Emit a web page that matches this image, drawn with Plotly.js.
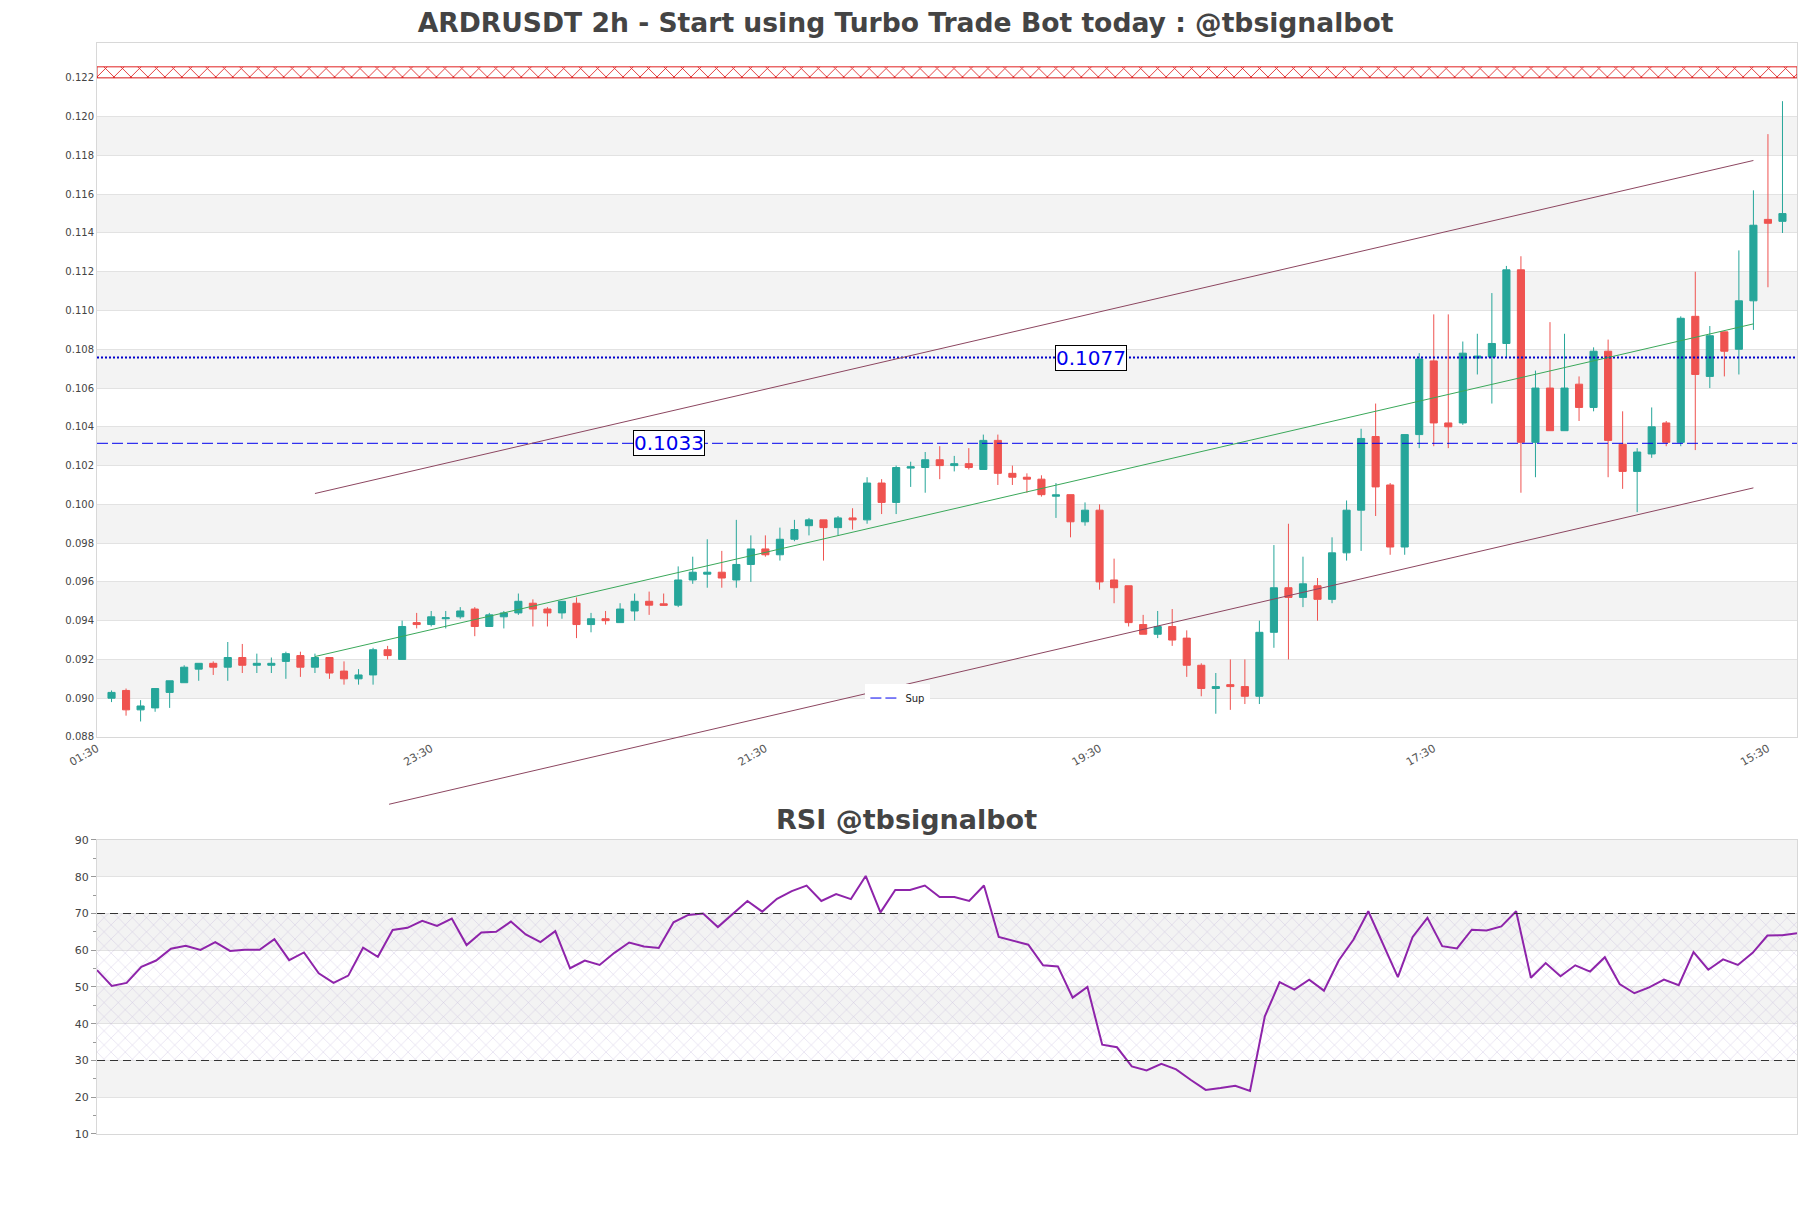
<!DOCTYPE html>
<html><head><meta charset="utf-8">
<script src="https://cdn.plot.ly/plotly-3.0.1.min.js"></script>
<style>html,body{margin:0;padding:0;background:#fff}#chart{width:1811px;height:1208px}</style>
</head><body><div id="chart"></div>
<script>
// ---------- data ----------
const candleIdx = [0,1,2,3,4,5,6,7,8,9,10,11,12,13,14,15,16,17,18,19,20,21,22,23,24,25,26,27,28,29,30,31,32,33,34,35,36,37,38,39,40,41,42,43,44,45,46,47,48,49,50,51,52,53,54,55,56,57,58,59,60,61,62,63,64,65,66,67,68,69,70,71,72,73,74,75,76,77,78,79,80,81,82,83,84,85,86,87,88,89,90,91,92,93,94,95,96,97,98,99,100,101,102,103,104,105,106,107,108,109,110,111,112,113,114,115];
const openP = [0.0900,0.0904,0.0894,0.0895,0.0903,0.0908,0.0915,0.0918,0.0916,0.0921,0.0917,0.0917,0.0919,0.0922,0.0916,0.0921,0.0914,0.0910,0.0912,0.0925,
0.0920,0.0939,0.0938,0.0941,0.0942,0.0946,0.0937,0.0942,0.0944,0.0949,0.0946,0.0944,0.0949,0.0938,0.0941,0.0939,0.0945,0.0950,0.09487,0.0948,
0.0961,0.0964,0.0965,0.0961,0.0969,0.0977,0.0974,0.0982,0.0989,0.0992,0.0988,0.0993,0.0992,0.1011,0.1001,0.10187,0.1019,0.1023,0.1020,0.1021,
0.1018,0.1033,0.1016,0.1014,0.1013,0.10042,0.1005,0.0991,0.0997,0.0961,0.0958,0.0938,0.0933,0.0937,0.0931,0.0917,0.0905,0.0907,0.0906,0.0901,
0.0934,0.0957,0.0952,0.0958,0.0951,0.0975,0.0997,0.1035,0.1010,0.0978,0.1036,0.1074,0.1042,0.1042,0.10755,0.1076,0.1083,0.1121,0.1032,0.1060,
0.1038,0.1062,0.1050,0.1079,0.1031,0.1017,0.1026,0.1042,0.1032,0.1097,0.1066,0.1089,0.1080,0.1105,0.1147,0.1146];
const highP = [0.0904,0.0905,0.0899,0.0905,0.0909,0.0917,0.0918,0.0919,0.0929,0.0928,0.0923,0.0921,0.0924,0.0924,0.0923,0.0921,0.0919,0.0915,0.0926,0.0927,
0.0940,0.0944,0.0945,0.0945,0.0947,0.0947,0.0944,0.0945,0.0954,0.0951,0.0947,0.0950,0.0952,0.0944,0.0945,0.0949,0.0954,0.0955,0.0954,0.0968,
0.0973,0.0982,0.0976,0.0992,0.0984,0.0984,0.0988,0.0992,0.0993,0.0992,0.0994,0.0998,0.1014,0.1013,0.1020,0.1022,0.1027,0.1030,0.1025,0.1029,
0.1036,0.1036,0.1020,0.1016,0.1015,0.1011,0.1005,0.1001,0.1000,0.0972,0.0958,0.0943,0.0945,0.0946,0.0935,0.0918,0.0913,0.0920,0.0920,0.0940,
0.0979,0.0990,0.0973,0.0962,0.0983,0.1002,0.1039,0.1052,0.1011,0.1036,0.1078,0.1098,0.1098,0.1084,0.1088,0.1109,0.1123,0.1128,0.1069,0.1094,
0.1088,0.1066,0.1081,0.1085,0.1048,0.1029,0.1050,0.1043,0.1097,0.1120,0.1092,0.1089,0.1131,0.1162,0.1191,0.1208];
const lowP = [0.0898,0.0891,0.0888,0.0893,0.0895,0.0908,0.0909,0.0912,0.0909,0.0913,0.0913,0.0913,0.0910,0.0911,0.0913,0.0910,0.0907,0.0907,0.0907,0.0920,
0.0920,0.0936,0.0937,0.0936,0.0941,0.0932,0.0937,0.0936,0.0943,0.0937,0.0937,0.0941,0.0931,0.0934,0.0938,0.0939,0.0940,0.0943,0.0948,0.0947,
0.0959,0.0957,0.0957,0.0957,0.0960,0.0973,0.0971,0.0981,0.0984,0.0971,0.0984,0.0987,0.0990,0.0995,0.0995,0.1009,0.1006,0.1013,0.1017,0.1018,
0.1018,0.1010,0.1010,0.1006,0.1004,0.0993,0.0983,0.0989,0.0956,0.0949,0.0937,0.0933,0.0931,0.0927,0.0911,0.0901,0.0892,0.0894,0.0897,0.0897,
0.0926,0.0920,0.0947,0.0940,0.0949,0.0971,0.0976,0.0994,0.0974,0.0974,0.1029,0.1030,0.1029,0.1041,0.1067,0.1052,0.1076,0.1006,0.1014,0.1038,
0.1038,0.1043,0.1048,0.1014,0.1008,0.0996,0.1024,0.1030,0.1030,0.1028,0.1060,0.1066,0.1067,0.1090,0.1112,0.1140];
const closeP = [0.0903,0.0894,0.0896,0.0905,0.0909,0.0916,0.0918,0.0916,0.0921,0.0917,0.0918,0.0918,0.0923,0.0916,0.0921,0.0913,0.0910,0.0912,0.0925,0.0922,
0.0937,0.0938,0.0942,0.09415,0.0945,0.0937,0.0943,0.0944,0.0950,0.0946,0.0944,0.0950,0.0938,0.0941,0.0940,0.0946,0.0950,0.0948,0.09479,0.0961,
0.0965,0.0965,0.0962,0.0969,0.0977,0.0974,0.0982,0.0987,0.0992,0.0988,0.0993,0.0992,0.1011,0.1001,0.1019,0.10194,0.1023,0.1020,0.1021,0.1019,
0.1033,0.1016,0.1014,0.1013,0.1005,0.10049,0.0991,0.0997,0.0960,0.0957,0.0939,0.0933,0.0937,0.0930,0.0917,0.0905,0.0906,0.0906,0.0901,0.0934,
0.0957,0.0952,0.0959,0.0951,0.0975,0.0997,0.1034,0.1009,0.0978,0.1036,0.1075,0.1042,0.1040,0.1078,0.10765,0.1083,0.1121,0.1032,0.1060,0.1038,
0.1060,0.1050,0.1079,0.1033,0.1017,0.1027,0.1040,0.1032,0.1096,0.1067,0.1087,0.1079,0.1105,0.1144,0.1145,0.1150];
const rsiIdx = candleIdx;
const rsiVals = [54.6,50.3,51.1,55.5,57.2,60.4,61.2,60.1,62.2,59.8,60.1,60.1,63.0,57.3,59.4,53.7,51.1,53.1,60.7,58.2,
65.5,66.1,68.0,66.6,68.6,61.4,64.8,65.0,67.8,64.3,62.2,65.2,55.1,57.2,56.0,59.3,62.1,61.0,60.6,67.6,
69.6,70.0,66.3,69.8,73.4,70.5,74.0,76.1,77.6,73.4,75.3,73.9,80.2,70.3,76.4,76.4,77.6,74.5,74.5,73.4,
77.6,63.6,62.5,61.5,55.9,55.6,47.1,50.0,34.3,33.6,28.4,27.3,29.1,27.6,24.7,22.0,22.5,23.1,21.7,42.0,
51.3,49.3,52.0,49.0,57.2,62.9,70.6,61.7,52.7,63.6,68.8,61.1,60.5,65.6,65.4,66.5,70.6,52.5,56.5,52.9,
55.9,54.2,58.1,50.8,48.3,49.9,52.0,50.5,59.5,54.7,57.5,56.0,59.3,64.0,64.1,64.6];

const xTickVals = [-1, 22, 45, 68, 91, 114];
const xTickText = ['01:30','23:30','21:30','19:30','17:30','15:30'];
const priceTicks = [0.088,0.090,0.092,0.094,0.096,0.098,0.100,0.102,0.104,0.106,0.108,0.110,0.112,0.114,0.116,0.118,0.120,0.122];
const rsiTicks = [10,20,30,40,50,60,70,80,90];

const levelVals = [0.10757, 0.10315];
const levelText = ['0.1077', '0.1033'];
const levelLabelX = [67.4, 38.4];
const resistZone = [0.1220, 0.12257];
const trendX = [14, 113];
const upperTrend = [0.10056, 0.11774];
const midTrend = [0.09215, 0.10931];
const lowerTrendX = [19.1, 113];
const lowerTrend = [0.08453, 0.10085];
const rsiBounds = [30, 70];

const xRange = [-1, 116];
const yRange = [0.088, 0.1238];
const rsiXRange = [0, 115];
const rsiRange = [10, 90];

// ---------- layout geometry ----------
const mainDomain = [0.3639, 1];
const rsiDomain = [0, 0.2695];
const extDomain = [0.29, 1];
const extLow = yRange[1] - (yRange[1] - yRange[0]) * (extDomain[1] - extDomain[0]) / (mainDomain[1] - mainDomain[0]);

const UP = '#26a69a', DOWN = '#ef5350';
const trendColor = '#8c4660';

const traces = [];
// resistance zone (hatched)
traces.push({
  x: [xRange[0], xRange[1], xRange[1], xRange[0], xRange[0]],
  y: [resistZone[0], resistZone[0], resistZone[1], resistZone[1], resistZone[0]],
  xaxis: 'x', yaxis: 'y', mode: 'lines', fill: 'toself',
  line: {color: '#e02020', width: 1},
  fillcolor: 'rgba(255,255,255,0)',
  fillpattern: {shape: 'x', fgcolor: '#e02020', bgcolor: 'rgba(255,255,255,0)', size: 12, solidity: 0.14},
  hoverinfo: 'skip', showlegend: false
});
// candles
traces.push({
  type: 'candlestick', x: candleIdx, open: openP, high: highP, low: lowP, close: closeP,
  xaxis: 'x', yaxis: 'y', whiskerwidth: 0,
  increasing: {line: {color: UP, width: 1}, fillcolor: UP},
  decreasing: {line: {color: DOWN, width: 1}, fillcolor: DOWN},
  showlegend: false, hoverinfo: 'skip'
});
// level lines
traces.push({
  x: xRange, y: [levelVals[0], levelVals[0]], xaxis: 'x', yaxis: 'y', mode: 'lines',
  line: {color: '#0000cc', width: 2, dash: '2px,2px'}, showlegend: false, hoverinfo: 'skip'
});
traces.push({
  x: xRange, y: [levelVals[1], levelVals[1]], xaxis: 'x', yaxis: 'y', mode: 'lines', name: 'Sup',
  line: {color: '#0000ee', width: 1, dash: '11px,4px'}, showlegend: true, hoverinfo: 'skip'
});
// trend channel (extended invisible axes so lower line can run below the frame)
traces.push({x: trendX, y: upperTrend, xaxis: 'x3', yaxis: 'y3', mode: 'lines', line: {color: trendColor, width: 1}, showlegend: false, hoverinfo: 'skip'});
traces.push({x: trendX, y: midTrend, xaxis: 'x3', yaxis: 'y3', mode: 'lines', line: {color: '#3aa85a', width: 1}, showlegend: false, hoverinfo: 'skip'});
traces.push({x: lowerTrendX, y: lowerTrend, xaxis: 'x3', yaxis: 'y3', mode: 'lines', line: {color: trendColor, width: 1}, showlegend: false, hoverinfo: 'skip'});
// RSI hatch zone
traces.push({
  x: [rsiXRange[0], rsiXRange[1], rsiXRange[1], rsiXRange[0], rsiXRange[0]],
  y: [rsiBounds[0], rsiBounds[0], rsiBounds[1], rsiBounds[1], rsiBounds[0]],
  xaxis: 'x2', yaxis: 'y2', mode: 'lines', fill: 'toself',
  line: {width: 0, color: 'rgba(0,0,0,0)'},
  fillcolor: 'rgba(255,255,255,0)',
  fillpattern: {shape: 'x', fgcolor: 'rgba(170,155,205,0.6)', bgcolor: 'rgba(255,255,255,0)', size: 10, solidity: 0.08},
  hoverinfo: 'skip', showlegend: false
});
// RSI line
traces.push({
  x: rsiIdx, y: rsiVals, xaxis: 'x2', yaxis: 'y2', mode: 'lines',
  line: {color: '#8e24aa', width: 2}, showlegend: false, hoverinfo: 'skip'
});

// shapes: alternating bands + RSI guide lines
const shapes = [];
for (let i = 1; i + 1 < priceTicks.length; i += 2) {
  shapes.push({type: 'rect', xref: 'paper', yref: 'y', x0: 0, x1: 1, y0: priceTicks[i], y1: priceTicks[i + 1],
    fillcolor: '#f3f3f3', line: {width: 0}, layer: 'below'});
}
for (let i = 1; i + 1 < rsiTicks.length; i += 2) {
  shapes.push({type: 'rect', xref: 'paper', yref: 'y2', x0: 0, x1: 1, y0: rsiTicks[i], y1: rsiTicks[i + 1],
    fillcolor: '#f3f3f3', line: {width: 0}, layer: 'below'});
}
rsiBounds.forEach(v => shapes.push({type: 'line', xref: 'paper', yref: 'y2', x0: 0, x1: 1, y0: v, y1: v,
  line: {color: '#333', width: 1.2, dash: '8px,5px'}, layer: 'above'}));

const annotations = levelText.map((t, i) => ({
  x: levelLabelX[i], y: levelVals[i], xref: 'x', yref: 'y', text: t, showarrow: false,
  font: {size: 20, color: '#0000ee', family: 'DejaVu Sans'},
  bgcolor: '#ffffff', bordercolor: '#000', borderwidth: 1, borderpad: 0
}));
annotations.push({
  text: 'RSI @tbsignalbot', xref: 'paper', yref: 'paper', x: 0.4762, y: 0.2883,
  xanchor: 'center', yanchor: 'middle', showarrow: false,
  font: {family: 'DejaVu Sans', size: 27, color: '#444', weight: 'bold'}
});

const minorRsi = [];
for (let i = 0; i + 1 < rsiTicks.length; i++) minorRsi.push((rsiTicks[i] + rsiTicks[i + 1]) / 2);

const axisLine = '#d8d8d8';
const layout = {
  width: 1811, height: 1208,
  margin: {l: 97, r: 14, t: 43, b: 74},
  paper_bgcolor: '#ffffff', plot_bgcolor: 'rgba(0,0,0,0)',
  font: {family: 'DejaVu Sans', color: '#444', size: 10},
  title: {text: 'ARDRUSDT 2h - Start using Turbo Trade Bot today : @tbsignalbot',
    font: {family: 'DejaVu Sans', size: 26.6, color: '#444', weight: 'bold'},
    x: 0.5, xref: 'container', xanchor: 'center', y: 0.981, yref: 'container', yanchor: 'middle'},
  showlegend: true,
  legend: {x: 0.452, y: 0.3996, xanchor: 'left', yanchor: 'middle', bgcolor: '#ffffff', font: {size: 10, color: '#222'}, borderwidth: 0},
  xaxis: {domain: [0, 1], anchor: 'y', range: xRange, tickmode: 'array', tickvals: xTickVals, ticktext: xTickText,
    tickangle: -30, showgrid: false, zeroline: false, showline: true, mirror: true, linecolor: axisLine, ticks: '',
    tickfont: {size: 11, color: '#555'}, rangeslider: {visible: false}},
  yaxis: {domain: mainDomain, anchor: 'x', range: yRange, tickmode: 'array', tickvals: priceTicks, tickformat: '.3f',
    showgrid: true, gridcolor: '#e2e2e2', zeroline: false, showline: true, mirror: true, linecolor: axisLine, ticks: '',
    tickfont: {size: 10, color: '#444'}},
  xaxis2: {domain: [0, 1], anchor: 'y2', range: rsiXRange, showticklabels: false, showgrid: false, zeroline: false,
    showline: true, mirror: true, linecolor: axisLine, ticks: ''},
  yaxis2: {domain: rsiDomain, anchor: 'x2', range: rsiRange, tickmode: 'array', tickvals: rsiTicks,
    ticks: 'outside', ticklen: 5, tickcolor: '#999', showgrid: true, gridcolor: '#e2e2e2', zeroline: false,
    showline: true, mirror: true, linecolor: axisLine, tickfont: {size: 11, color: '#444'},
    minor: {tickmode: 'array', tickvals: minorRsi, ticks: 'outside', ticklen: 3, tickcolor: '#999', showgrid: false}},
  xaxis3: {domain: [0, 1], anchor: 'y3', range: xRange, visible: false},
  yaxis3: {domain: extDomain, anchor: 'x3', range: [extLow, yRange[1]], visible: false},
  shapes: shapes,
  annotations: annotations
};

Plotly.newPlot('chart', traces, layout, {displayModeBar: false, staticPlot: true});
</script>
</body></html>
